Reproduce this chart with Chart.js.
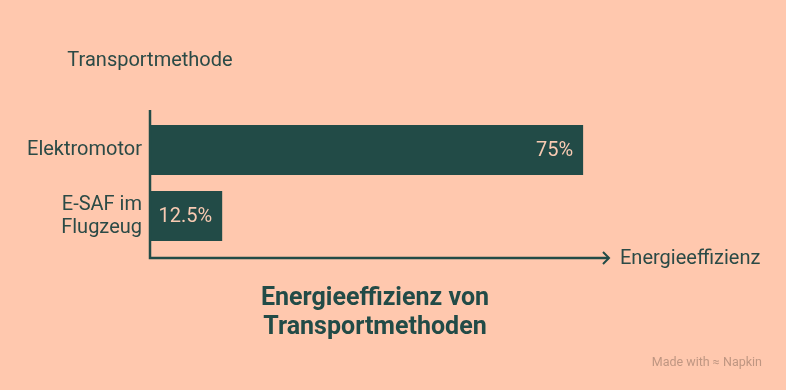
<!DOCTYPE html>
<html>
<head>
<meta charset="utf-8">
<script src="https://cdn.jsdelivr.net/npm/chart.js@4"></script>
<style>
  html, body { margin: 0; padding: 0; background: #ffc8ae; }
  #wrap { width: 786px; height: 390px; }
</style>
</head>
<body>
<div id="wrap"><canvas id="board" width="786" height="390"></canvas></div>
<script>
const categories = [["Elektromotor"], ["E-SAF im", "Flugzeug"]];
const values = [75, 12.5];
const valueLabels = ["75%", "12.5%"];
const xTitle = "Energieeffizienz";
const yTitle = "Transportmethode";
const titleLines = ["Energieeffizienz von", "Transportmethoden"];

const bg = "#ffc8ae";
const dark = "#224b47";
const textCol = "#2b4a46";
const font = "Roboto, 'Noto Sans', sans-serif";

// axes, labels and title drawn on top
const extras = {
  id: "extras",
  afterDatasetsDraw(chart) {
    const ctx = chart.ctx;
    const a = chart.chartArea;
    const meta = chart.getDatasetMeta(0);
    ctx.save();
    // value labels inside bars
    ctx.font = "20px " + font;
    ctx.fillStyle = "#f8cab2";
    ctx.textAlign = "right";
    ctx.textBaseline = "middle";
    meta.data.forEach((bar, i) => {
      ctx.fillText(valueLabels[i], bar.x - 10, bar.y + 1);
    });
    // axis lines
    ctx.strokeStyle = dark;
    ctx.lineWidth = 2.5;
    ctx.beginPath();
    ctx.moveTo(a.left, 110);
    ctx.lineTo(a.left, 258);
    ctx.lineTo(609, 258);
    ctx.stroke();
    ctx.beginPath();
    ctx.lineWidth = 2;
    ctx.moveTo(603, 252);
    ctx.lineTo(609, 258);
    ctx.lineTo(603, 264);
    ctx.stroke();
    // axis titles
    ctx.fillStyle = textCol;
    ctx.textAlign = "left";
    ctx.fillText(xTitle, 620, 259);
    ctx.textAlign = "center";
    ctx.fillText(yTitle, 150, 61);
    // chart title
    ctx.font = "bold 25px " + font;
    ctx.fillStyle = dark;
    ctx.fillText(titleLines[0], 375, 299);
    ctx.fillText(titleLines[1], 375, 328);
    // watermark
    ctx.font = "12.5px " + font;
    ctx.fillStyle = "#bf9682";
    ctx.textAlign = "right";
    ctx.fillText("Made with \u2248 Napkin", 762, 363);
    ctx.restore();
  }
};

new Chart(document.getElementById("board"), {
  type: "bar",
  data: {
    labels: categories,
    datasets: [{
      data: values,
      backgroundColor: dark,
      borderWidth: 0,
      barPercentage: 1,
      categoryPercentage: 50 / 66
    }]
  },
  options: {
    indexAxis: "y",
    responsive: false,
    animation: false,
    layout: { padding: { left: 0, top: 117, right: 174, bottom: 141 } },
    plugins: { legend: { display: false }, tooltip: { enabled: false } },
    scales: {
      x: { display: false, min: 0, max: 80 },
      y: {
        afterFit(s) { s.width = 150; },
        grid: { display: false, drawTicks: false },
        border: { display: false },
        ticks: {
          padding: 8,
          color: textCol,
          font: { family: font, size: 20, lineHeight: 1.15 }
        }
      }
    }
  },
  plugins: [extras]
});
</script>
</body>
</html>
